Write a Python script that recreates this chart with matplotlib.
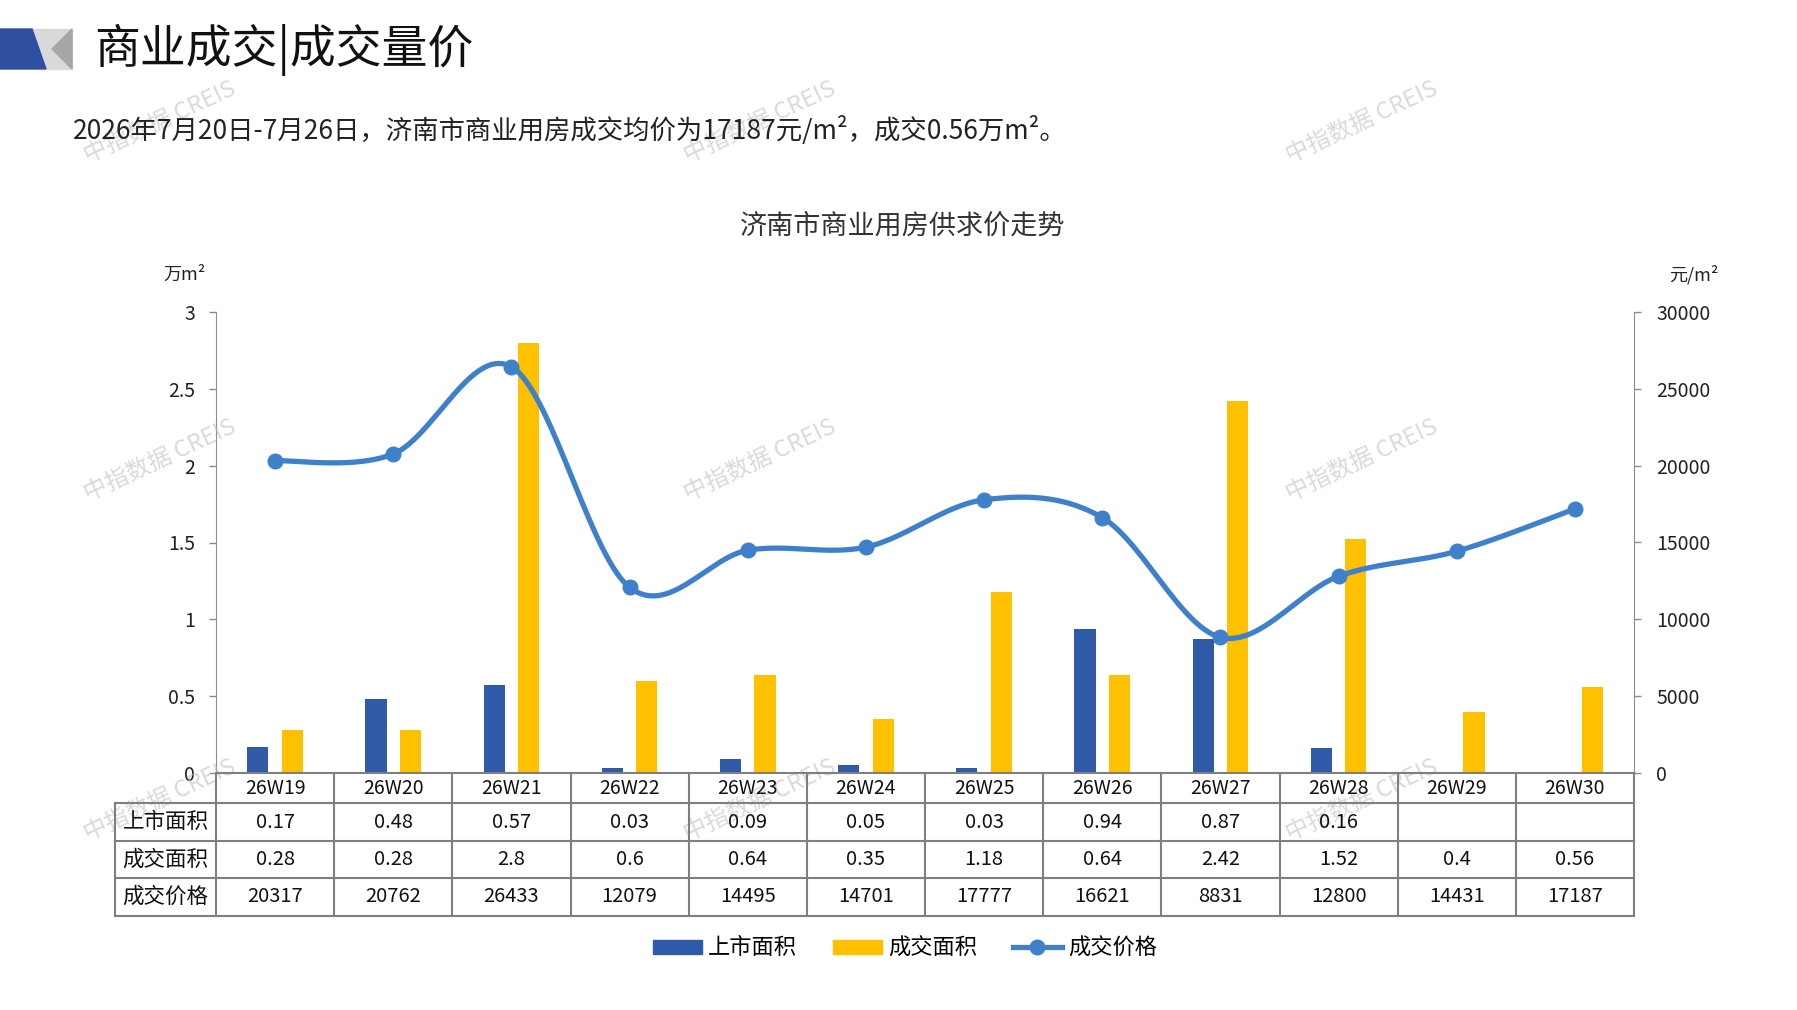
import numpy as np
import matplotlib
matplotlib.use('Agg')
import matplotlib.pyplot as plt
from matplotlib.patches import Polygon, Rectangle
from matplotlib.lines import Line2D

plt.rcParams['font.family'] = ['Noto Sans CJK SC', 'DejaVu Sans']

# data
weeks = ['26W19', '26W20', '26W21', '26W22', '26W23', '26W24',
         '26W25', '26W26', '26W27', '26W28', '26W29', '26W30']
supply = [0.17, 0.48, 0.57, 0.03, 0.09, 0.05, 0.03, 0.94, 0.87, 0.16, None, None]
deal = [0.28, 0.28, 2.8, 0.6, 0.64, 0.35, 1.18, 0.64, 2.42, 1.52, 0.4, 0.56]
price = [20317, 20762, 26433, 12079, 14495, 14701, 17777, 16621, 8831, 12800, 14431, 17187]
row_names = ['上市面积', '成交面积', '成交价格']
series_names = ['上市面积', '成交面积', '成交价格']

c_blue = '#2E5AA8'
c_yellow = '#FFC000'
c_line = '#3F80CB'
c_grid = '#8C8C8C'

W, H = 1797, 1010
fig = plt.figure(figsize=(W / 100, H / 100), dpi=100)


def fx(px):
    return px / W


def fy(py):
    return 1 - py / H


# header logo
fig.patches.append(Polygon([[fx(0), fy(29)], [fx(32), fy(29)], [fx(46), fy(69)], [fx(0), fy(69)]],
                           closed=True, transform=fig.transFigure, color='#2F4FA0', zorder=2))
fig.patches.append(Polygon([[fx(32), fy(29)], [fx(72), fy(29)], [fx(72), fy(69)], [fx(46), fy(69)]],
                           closed=True, transform=fig.transFigure, color='#D9D9D9', zorder=1))
fig.patches.append(Polygon([[fx(52), fy(49)], [fx(72), fy(29)], [fx(72), fy(69)]],
                           closed=True, transform=fig.transFigure, color='#A6A6A6', zorder=2))
fig.text(fx(94), fy(50), '商业成交|成交量价', fontsize=33, va='center', ha='left', color='#111111')
fig.text(fx(73), fy(130), '2026年7月20日-7月26日，济南市商业用房成交均价为17187元/m²，成交0.56万m²。',
         fontsize=19, va='center', ha='left', color='#222222')

# watermarks
for wx in [160, 760, 1362]:
    for wy in [122, 460, 800]:
        fig.text(fx(wx), fy(wy), '中指数据 CREIS', fontsize=17, rotation=25, color='#BBBBBB',
                 alpha=0.55, ha='center', va='center', zorder=0)

fig.text(fx(903), fy(226), '济南市商业用房供求价走势', fontsize=19.5, ha='center', va='center', color='#333333')

# main axes
left, right, top, bottom = 216, 1634, 312, 773
ax = fig.add_axes([fx(left), fy(bottom), fx(right - left), (bottom - top) / H])
x = np.arange(len(weeks))
bw = 0.18
sup_vals = [np.nan if v is None else v for v in supply]
ax.bar(x - 0.146, sup_vals, bw, color=c_blue, zorder=2)
ax.bar(x + 0.146, deal, bw, color=c_yellow, zorder=2)
ax.set_xlim(-0.5, len(weeks) - 0.5)
ax.set_ylim(0, 3)
ax.set_yticks([0, 0.5, 1, 1.5, 2, 2.5, 3])
ax.set_yticklabels(['0', '0.5', '1', '1.5', '2', '2.5', '3'])
ax.set_xticks([])
for s in ['top', 'right', 'bottom']:
    ax.spines[s].set_visible(False)
ax.spines['left'].set_color(c_grid)
ax.tick_params(axis='y', colors='#222222', labelsize=14, length=5, width=1, pad=10)
ax.tick_params(axis='y', color=c_grid)
ax.patch.set_alpha(0)

ax2 = ax.twinx()
ax2.set_ylim(0, 30000)
ax2.set_yticks(np.arange(0, 30001, 5000))
for s in ['top', 'left', 'bottom']:
    ax2.spines[s].set_visible(False)
ax2.spines['right'].set_color(c_grid)
ax2.tick_params(axis='y', colors='#222222', labelsize=14, length=5, width=1, pad=11)
ax2.tick_params(axis='y', color=c_grid)

# smoothed price line (Excel-style Bezier through the points)
pts = np.column_stack([x, price]).astype(float)
n = len(pts)
curve = []
t = np.linspace(0, 1, 30)[:, None]
for i in range(n - 1):
    p0 = pts[i]
    p3 = pts[i + 1]
    pm = pts[i - 1] if i > 0 else pts[i]
    pp = pts[i + 2] if i + 2 < n else pts[i + 1]
    c1 = p0 + (p3 - pm) / 6
    c2 = p3 - (pp - p0) / 6
    seg = (1 - t) ** 3 * p0 + 3 * (1 - t) ** 2 * t * c1 + 3 * (1 - t) * t ** 2 * c2 + t ** 3 * p3
    curve.append(seg)
curve = np.vstack(curve)
ax2.plot(curve[:, 0], curve[:, 1], color=c_line, lw=3.8, zorder=3, solid_capstyle='round')
ax2.plot(x, price, 'o', color=c_line, ms=10.5, zorder=4)

fig.text(fx(184), fy(275), '万m²', fontsize=13, ha='center', va='center', color='#222222')
fig.text(fx(1694), fy(275), '元/m²', fontsize=13, ha='center', va='center', color='#222222')

# data table
row_y = [773, 803, 841, 878, 916]
tab_left = 115
colw = (right - left) / len(weeks)
lc = '#7F7F7F'
fig.add_artist(Line2D([fx(left), fx(right)], [fy(row_y[0])] * 2, color=lc, lw=1.5))
for yy in row_y[1:]:
    fig.add_artist(Line2D([fx(tab_left), fx(right)], [fy(yy)] * 2, color=lc, lw=1.5))
fig.add_artist(Line2D([fx(tab_left)] * 2, [fy(row_y[1]), fy(row_y[-1])], color=lc, lw=1.5))
for i in range(len(weeks) + 1):
    xx = left + i * colw
    fig.add_artist(Line2D([fx(xx)] * 2, [fy(row_y[0]), fy(row_y[-1])], color=lc, lw=1.5))

rows = [
    [('' if v is None else f'{v:g}') for v in supply],
    [f'{v:g}' for v in deal],
    [str(v) for v in price],
]
for i, wk in enumerate(weeks):
    cx = left + (i + 0.5) * colw
    fig.text(fx(cx), fy((row_y[0] + row_y[1]) / 2), wk, fontsize=14, ha='center', va='center', color='#111111')
for r, (name, vals) in enumerate(zip(row_names, rows)):
    cy = (row_y[r + 1] + row_y[r + 2]) / 2
    fig.text(fx((tab_left + left) / 2), fy(cy), name, fontsize=15.5, ha='center', va='center', color='#111111')
    for i, v in enumerate(vals):
        cx = left + (i + 0.5) * colw
        fig.text(fx(cx), fy(cy), v, fontsize=14.5, ha='center', va='center', color='#111111')

# legend
handles = [Rectangle((0, 0), 1, 1, color=c_blue),
           Rectangle((0, 0), 1, 1, color=c_yellow),
           Line2D([], [], color=c_line, lw=3.8, marker='o', ms=10.5)]
fig.legend(handles, series_names, loc='center', bbox_to_anchor=(fx(905), fy(948)), ncol=3,
           frameon=False, fontsize=16, handlelength=2.2, handleheight=0.6, columnspacing=1.6,
           handletextpad=0.3)

fig.savefig('out.png', dpi=100)
